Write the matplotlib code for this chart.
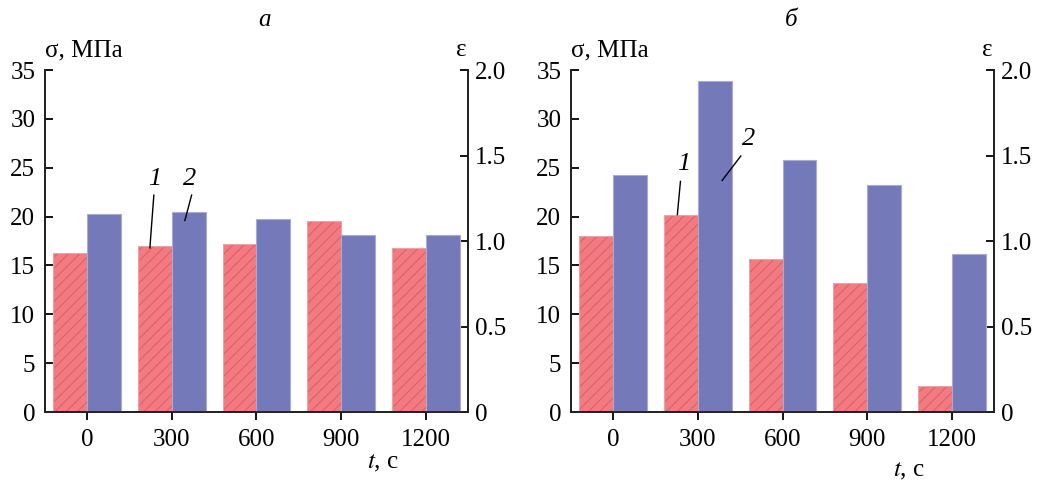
import numpy as np
import matplotlib
matplotlib.use('Agg')
import matplotlib.pyplot as plt


times = [0, 300, 600, 900, 1200]
time_labels = ['0', '300', '600', '900', '1200']

# panel a
sigma_a = [16.3, 17.0, 17.2, 19.6, 16.8]
eps_a = [1.157, 1.171, 1.128, 1.034, 1.034]

# panel b
sigma_b = [18.0, 20.2, 15.7, 13.2, 2.7]
eps_b = [1.387, 1.934, 1.475, 1.325, 0.925]

RED = '#f27a80'
BLUE = '#7479b9'

plt.rcParams['font.family'] = ['Liberation Serif', 'DejaVu Serif']
plt.rcParams['mathtext.fontset'] = 'stix'
plt.rcParams['font.size'] = 18
plt.rcParams['hatch.linewidth'] = 0.8


def draw_panel(fig, rect, sigma, eps, letter, notes, tlabel_y):
    ax = fig.add_axes(rect)
    ax2 = ax.twinx()
    x = np.array(times)
    # hatch takes the edge colour, so draw hatch and outline separately
    ax.bar(x - 60, sigma, width=120, color=RED, edgecolor='#d8646b',
           linewidth=0, hatch='///', zorder=2)
    ax.bar(x - 60, sigma, width=120, fill=False, edgecolor='#eaa4a8',
           linewidth=0.8, zorder=2)
    ax2.bar(x + 60, eps, width=120, color=BLUE, edgecolor='#a8acd4',
            linewidth=0.8, zorder=2)

    ax.set_xlim(-150, 1350)
    ax.set_ylim(0, 35)
    ax2.set_ylim(0, 2.0)
    ax.set_yticks(range(0, 36, 5))
    ax2.set_yticks([0, 0.5, 1.0, 1.5, 2.0])
    ax2.set_yticklabels(['0', '0.5', '1.0', '1.5', '2.0'])
    ax.set_xticks(times)
    ax.set_xticklabels(time_labels)

    for a in (ax, ax2):
        a.spines['top'].set_visible(False)
        for s in a.spines.values():
            s.set_linewidth(1.3)
            s.set_color('#222222')
    ax.tick_params(axis='y', direction='in', length=6, width=1.3, pad=7)
    ax2.tick_params(axis='y', direction='in', length=6, width=1.3, pad=5)
    ax.tick_params(axis='x', direction='out', length=6, width=1.3, pad=6)

    ax.text(0.0, 1.025, 'σ, МПа', transform=ax.transAxes, ha='left', va='bottom')
    ax.text(0.985, 1.025, 'ε', transform=ax.transAxes, ha='center', va='bottom')
    ax.text(0.52, 1.115, letter, transform=ax.transAxes, ha='center',
            va='bottom', style='italic')
    ax.text(0.80, tlabel_y, '$\\mathit{t}$, с', transform=ax.transAxes,
            ha='center', va='center')

    # leader lines sit on top of both bar sets
    for label, txt_xy, start, end in notes:
        ax2.text(txt_xy[0], txt_xy[1], label, style='italic', ha='center',
                 va='center', fontsize=19, transform=ax.transData)
        ax2.plot([start[0], end[0]], [start[1], end[1]], color='black',
                 linewidth=1.0, zorder=3, transform=ax.transData)
    return ax


def main():
    fig = plt.figure(figsize=(10.39, 4.82), dpi=100)

    notes_a = [('1', (240, 23.8), (236, 22.2), (222, 16.8)),
               ('2', (364, 23.8), (370, 22.2), (346, 19.6))]
    notes_b = [('1', (248, 25.4), (238, 23.6), (227, 20.2)),
               ('2', (478, 27.9), (452, 26.2), (386, 23.7))]

    draw_panel(fig, [0.0433, 0.1452, 0.4071, 0.7095], sigma_a, eps_a,
               'а', notes_a, -0.15)
    draw_panel(fig, [0.5496, 0.1452, 0.4071, 0.7095], sigma_b, eps_b,
               'б', notes_b, -0.172)

    fig.savefig('out.png', dpi=100)


if __name__ == "__main__":
    main()
